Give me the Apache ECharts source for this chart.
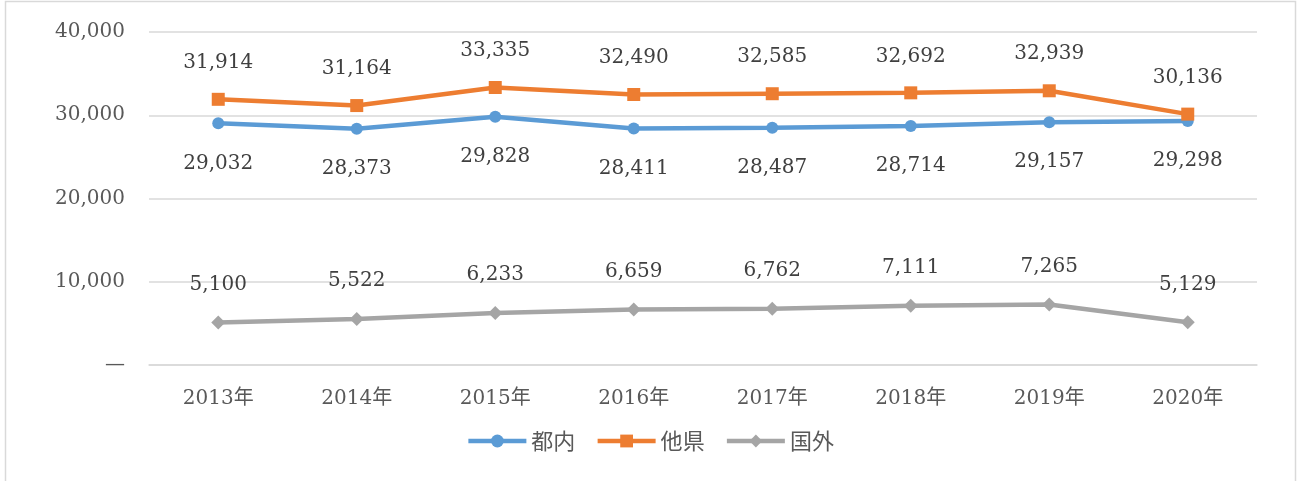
<!DOCTYPE html>
<html>
<head>
<meta charset="utf-8">
<script src="https://cdn.jsdelivr.net/npm/echarts@6/dist/echarts.min.js"></script>
<style>
  html, body { margin: 0; padding: 0; background: #fff; }
  #chart { width: 1300px; height: 481px; }
</style>
</head>
<body>
<div id="chart"></div>
<script>
// データ
const years = ['2013年', '2014年', '2015年', '2016年', '2017年', '2018年', '2019年', '2020年'];
const tonai = [29032, 28373, 29828, 28411, 28487, 28714, 29157, 29298];
const taken = [31914, 31164, 33335, 32490, 32585, 32692, 32939, 30136];
const kokugai = [5100, 5522, 6233, 6659, 6762, 7111, 7265, 5129];
const seriesNames = ['都内', '他県', '国外'];

const FONT = "'DejaVu Serif', 'Noto Sans CJK JP', serif";
const fmt = v => v.toLocaleString('en-US');

let chartView = echarts.init(document.getElementById('chart'));

function lineSeries(name, data, color, symbol, size, pos, dist) {
    return {
        name: name,
        type: 'line',
        data: data,
        symbol: symbol,
        symbolSize: size,
        lineStyle: { color: color, width: 4.5 },
        itemStyle: { color: color },
        label: {
            show: true,
            position: pos,
            distance: dist,
            fontFamily: FONT,
            fontSize: 20,
            color: '#404040',
            formatter: p => fmt(p.value)
        },
        z: 3
    };
}

chartView.setOption({
    backgroundColor: '#fff',
    animation: false,
    graphic: [{
        type: 'rect',
        shape: { x: 5.5, y: 1.5, width: 1290, height: 490 },
        style: { fill: 'none', stroke: '#d9d9d9', lineWidth: 1.5 },
        silent: true
    }],
    legend: {
        data: seriesNames,
        bottom: 24,
        left: 'center',
        itemWidth: 58,
        itemHeight: 16,
        itemGap: 20,
        lineStyle: { width: 4.5 },
        textStyle: { fontFamily: "'Noto Sans CJK JP', sans-serif", fontSize: 22, color: '#595959' }
    },
    grid: {
        left: 149,
        right: 43,
        top: 32,
        bottom: 116,
        containLabel: false
    },
    xAxis: {
        type: 'category',
        boundaryGap: true,
        data: years,
        axisLine: { lineStyle: { color: '#d9d9d9', width: 1.5 } },
        axisTick: { show: false },
        axisLabel: { margin: 24, fontFamily: FONT, fontSize: 20, color: '#595959' }
    },
    yAxis: {
        type: 'value',
        min: 0,
        max: 40000,
        interval: 10000,
        axisLine: { show: false },
        axisTick: { show: false },
        splitLine: { lineStyle: { color: '#d9d9d9', width: 1.5 } },
        axisLabel: {
            margin: 24,
            fontFamily: FONT,
            fontSize: 20,
            color: '#595959',
            formatter: v => v === 0 ? '—' : fmt(v)
        }
    },
    series: [
        lineSeries('都内', tonai, '#5B9BD5', 'circle', 12, 'bottom', 24),
        lineSeries('他県', taken, '#ED7D31', 'rect', 13, 'top', 20),
        lineSeries('国外', kokugai, '#A5A5A5', 'diamond', 14, 'top', 21)
    ]
});
</script>
</body>
</html>
